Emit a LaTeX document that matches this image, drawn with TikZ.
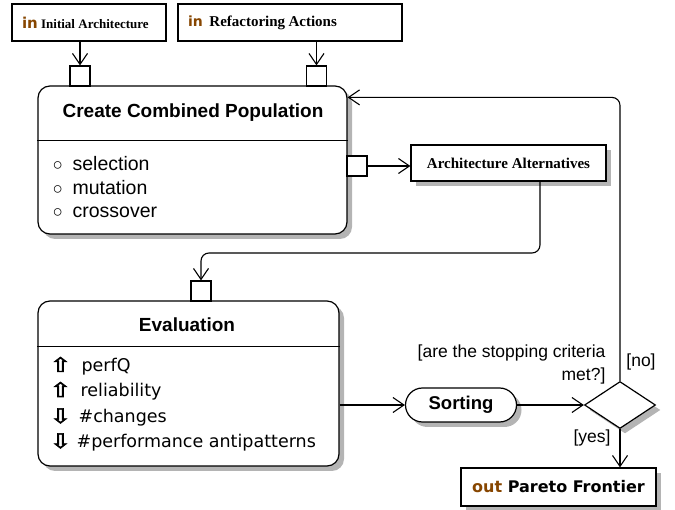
\documentclass[tikz,border=0pt]{standalone}
\usepackage{fontspec}
\usepackage{graphicx}
\setmainfont{Liberation Sans}
\newfontfamily\dejavu{DejaVu Sans}
\newfontfamily\arrowfont[FakeBold=2.5]{DejaVu Sans}
\newfontfamily\timesf{Liberation Serif}
\usetikzlibrary{arrows.meta,shapes.geometric,shadows,calc}
\definecolor{kwbrown}{RGB}{135,70,0}
\definecolor{shadowgray}{RGB}{180,180,180}
\newcommand{\inkw}[1]{{\color{kwbrown}\dejavu\bfseries\fontsize{#1}{#1}\selectfont in}}
\newcommand{\fs}[1]{\fontsize{#1}{#1}\selectfont}
\newcommand{\bul}{\makebox[20pt][l]{\fs{17}○}}
\newcommand{\up}[1]{\makebox[#1][l]{\arrowfont\fs{20}\scalebox{1.3}[1.0]{⇧}}}
\newcommand{\dn}[1]{\makebox[#1][l]{\arrowfont\fs{20}\scalebox{1.3}[1.0]{⇩}}}
\begin{document}
\begin{tikzpicture}[x=1pt,y=-1pt,
  line width=1.2pt,
  conn/.style={draw, line width=1.1pt},
  arr/.style={conn, -{Straight Barb[length=11pt,width=15pt,line width=1.1pt]}},
  shad/.style={drop shadow={shadow xshift=5pt,shadow yshift=-5pt,fill=shadowgray,opacity=1}},
  inbox/.style={draw, rectangle, fill=white, minimum height=37pt, inner xsep=10pt, inner ysep=0pt, align=left},
  objbox/.style={draw, rectangle, fill=white, inner sep=0pt, shad},
  actbox/.style={draw, rectangle, rounded corners=12pt, fill=white, inner sep=0pt, shad},
  pinbox/.style={draw, rectangle, fill=white, minimum size=20pt, inner sep=0pt},
  titletext/.style={font=\bfseries\fs{19}},
  itemtext/.style={anchor=base west, inner sep=0pt, font=\fs{19.5}},
  evtext/.style={anchor=base west, inner sep=0pt, font=\dejavu\fs{17.5}},
  lbl/.style={inner sep=0pt, font=\fs{17.5}}
]
\useasboundingbox (0,0) rectangle (675,510);

% input boxes
\node[inbox, text width=134pt] (ia) at (89,22.5) {\inkw{15}\ {\timesf\bfseries\fs{13}Initial Architecture}};
\node[inbox, text width=204pt] (ra) at (290,22.5) {\inkw{14}\ \ {\timesf\bfseries\fs{15}Refactoring Actions}};

% create combined population
\node[actbox, minimum width=309pt, minimum height=148pt] (ccp) at (192.5,160) {};
\draw ($(ccp.north west)+(0,55)$) -- ($(ccp.north east)+(0,55)$);
\node[titletext] (ccpt) at (193,113) {Create Combined Population};
\node[itemtext] (i1) at (52,171) {\bul selection};
\node[itemtext] (i2) at (52,195) {\bul mutation};
\node[itemtext] (i3) at (52,218) {\bul crossover};

% pins on ccp
\node[pinbox] (pia) at (80,76) {};
\node[pinbox] (pra) at (316.5,76) {};
\node[pinbox] (pout) at (357,166) {};

% architecture alternatives
\node[objbox, minimum width=195pt, minimum height=36pt, font=\timesf\bfseries\fs{15}] (aa) at (508.5,163) {Architecture Alternatives};

% evaluation
\node[actbox, minimum width=301pt, minimum height=165pt] (eva) at (188.5,383.5) {};
\draw ($(eva.north west)+(0,46)$) -- ($(eva.north east)+(0,46)$);
\node[titletext] (evat) at (187,325) {Evaluation};
\node[evtext] (e1) at (49,372) {\up{32pt}perfQ};
\node[evtext] (e2) at (49,397) {\up{31pt}reliability};
\node[evtext] (e3) at (49,423) {\dn{29pt}\#changes};
\node[evtext] (e4) at (49,448) {\dn{27pt}\#performance antipatterns};
\node[pinbox] (peva) at (201,291) {};

% sorting
\node[draw, rectangle, rounded corners=17pt, fill=white, minimum width=111pt, minimum height=34pt, inner sep=0pt, shad, font=\bfseries\fs{18.5}] (sort) at (461,405) {Sorting};

% decision
\node[draw, diamond, fill=white, minimum width=71pt, minimum height=47pt, inner sep=0pt, shad] (dia) at (620,405) {};

% pareto frontier
\node[objbox, minimum width=195pt, minimum height=38pt, font=\bfseries\dejavu\fs{16}] (par) at (558.5,487) {{\color{kwbrown}out} Pareto Frontier};

% labels
\node[lbl, anchor=east, align=right] (q1) at (606,353) {[are the stopping criteria};
\node[lbl, anchor=east] (q2) at (606,376) {met?]};
\node[lbl] (lno) at (641,362) {[no]};
\node[lbl] (lyes) at (592,438) {[yes]};

% connectors
\coordinate (k1) at (540,253);
\coordinate (k2) at ($(ccp.north east)+(0,12)$);
\draw[arr] (ia.south -| pia) -- (pia.north);
\draw[arr] (ra.south -| pra) -- (pra.north);
\draw[arr] (pout.east) -- (pout.east -| aa.west);
\draw[arr, rounded corners=8pt] (aa.south -| k1) -- (k1) -| (peva.north);
\draw[arr] (eva.east |- sort) -- (sort.west);
\draw[arr] (sort.east) -- (dia.west);
\draw[arr] (dia.south) -- (dia.south |- par.north);
\draw[arr, rounded corners=8pt] (dia.north) |- (k2);
\end{tikzpicture}
\end{document}
